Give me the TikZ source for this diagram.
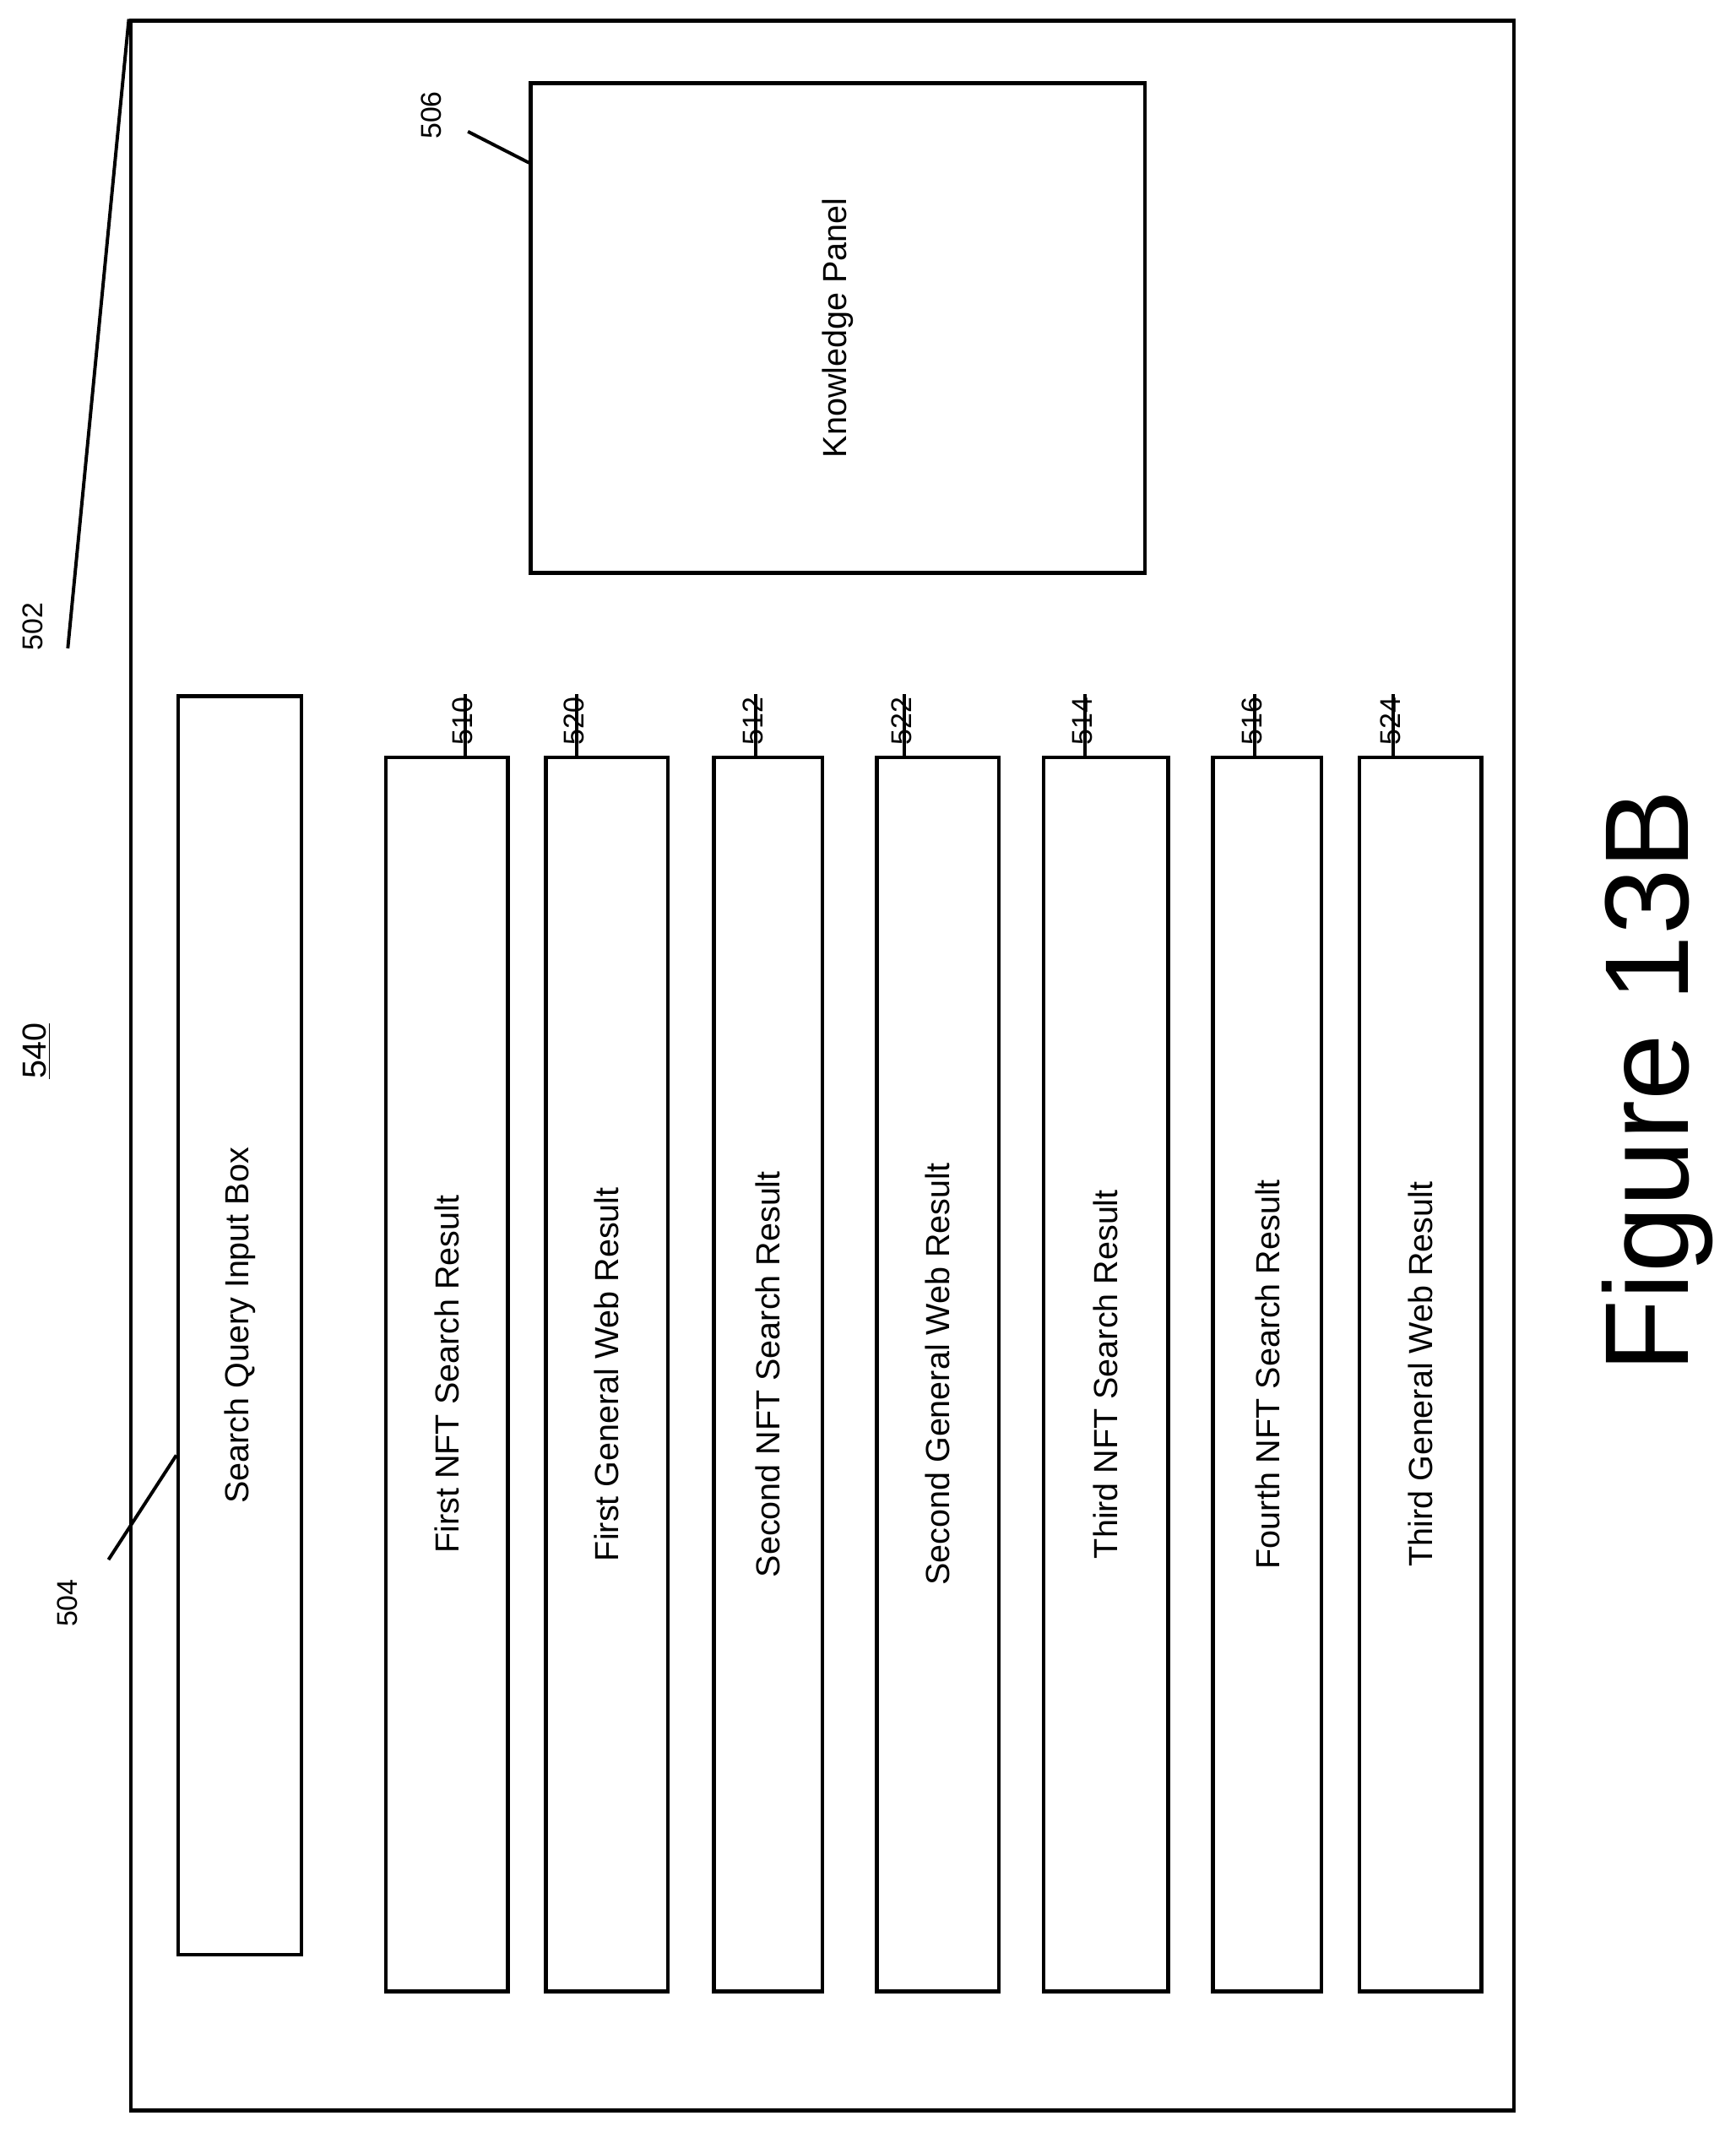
\documentclass[tikz,border=0pt]{standalone}
\usepackage{fontspec}
\setmainfont{Liberation Sans}
\tikzset{
  box/.style={draw, line width=1.6pt, anchor=north west, inner sep=0pt},
  lbl/.style={rotate=90, font=\fontsize{14}{16}\selectfont},
  ref/.style={rotate=90, font=\fontsize{12}{14}\selectfont},
  lead/.style={line width=1.4pt}
}
\begin{document}
\begin{tikzpicture}[x=0.02cm, y=-0.02cm]
  \useasboundingbox (0,0) rectangle (1280,1572);

  \node[box, minimum width=20.4cm, minimum height=30.82cm] (frame) at (95,14) {};
  \node[box, minimum width=9.06cm, minimum height=7.22cm] (kp) at (390,60) {};
  \node[lbl] (kpt) at (kp.center) {Knowledge Panel};
  \node[box, minimum width=1.82cm, minimum height=18.56cm] (sq) at (130,512) {};
  \node[lbl] (sqt) at (sq.center) {Search Query Input Box};

  \node[ref] (r506) at (318,85) {506};
  \coordinate (c506) at (345,97);
  \draw[lead] (c506) -- (390,120);
  \node[ref] (r502) at (24,462) {502};
  \coordinate (c502) at (50,478);
  \draw[lead] (c502) -- (frame.north west);
  \node[rotate=90, font=\fontsize{14}{16}\selectfont] (n540) at (27,775) {\underline{540}};
  \node[ref] (r504) at (50,1182) {504};
  \coordinate (c504) at (80,1150);
  \draw[lead] (c504) -- (130,1073);

  \foreach \x/\w/\t/\r/\k [count=\i] in {
      283/1.80/First NFT Search Result/510/343,
      401/1.80/First General Web Result/520/425,
      525/1.60/Second NFT Search Result/512/557,
      645/1.80/Second General Web Result/522/667,
      768/1.84/Third NFT Search Result/514/800,
      893/1.60/Fourth NFT Search Result/516/925,
      1001/1.80/Third General Web Result/524/1027} {
    \node[box, minimum width=\w cm, minimum height=18.2cm] (res\i) at (\x,557) {};
    \node[lbl] (rest\i) at (res\i.center) {\t};
    \node[ref, anchor=east] (ref\i) at (\k-2,508) {\r};
    \draw[lead] (\k,512) -- (\k,557);
  }

  \node[rotate=90, font=\fontsize{50}{56}\selectfont] (fig) at (1222,797) {Figure 13B};
\end{tikzpicture}
\end{document}
